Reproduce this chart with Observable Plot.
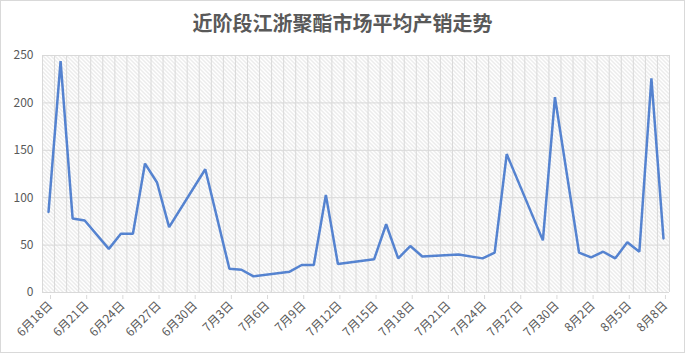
<!DOCTYPE html>
<html><head><meta charset="utf-8">
<script src="https://cdn.jsdelivr.net/npm/d3@7"></script>
<script src="https://cdn.jsdelivr.net/npm/@observablehq/plot@0.6"></script>
<style>
body{margin:0;background:#fff;}
#chart{position:relative;width:685px;height:353px;box-shadow:inset 0 0 0 1px #d9d9d9;font-family:"Noto Sans CJK SC",sans-serif;}
#title{height:45px;line-height:45px;text-align:center;font-size:20px;color:#595959;font-weight:bold;}
#chart svg{display:block;}
</style></head><body>
<div id="chart"><div id="title">近阶段江浙聚酯市场平均产销走势</div></div>
<script>
const dates = ["2023-06-18","2023-06-19","2023-06-20","2023-06-21","2023-06-23","2023-06-24","2023-06-25","2023-06-26","2023-06-27","2023-06-28",
  "2023-07-01","2023-07-03","2023-07-04","2023-07-05","2023-07-08","2023-07-09","2023-07-10","2023-07-11","2023-07-12","2023-07-15",
  "2023-07-16","2023-07-17","2023-07-18","2023-07-19","2023-07-22","2023-07-24","2023-07-25","2023-07-26","2023-07-29","2023-07-30",
  "2023-08-01","2023-08-02","2023-08-03","2023-08-04","2023-08-05","2023-08-06","2023-08-07","2023-08-08"];
const values = [85,244,78,76,46,62,62,136,116,69,
  130,25,24,17,22,29,29,103,30,35,
  72,36,49,38,40,36,42,146,55,206,
  42,37,43,36,53,43,226,57];
const yTicks = [0,50,100,150,200,250];
const axisStart = "2023-06-18";
const axisEnd = "2023-08-09";

const parse = s => new Date(s + "T00:00:00Z");
const data = dates.map((d, i) => ({date: d3.utcHour.offset(parse(d), 12), value: values[i]}));
const start = parse(axisStart), end = parse(axisEnd);
const dayLines = d3.utcDay.range(start, d3.utcDay.offset(end, 1));
const tickDates = d3.utcDay.every(1).range(start, end).filter((d, i) => i % 3 === 0);

const plot = Plot.plot({
  width: 685, height: 308,
  marginTop: 10, marginBottom: 61, marginLeft: 42, marginRight: 16,
  x: {type: "utc", domain: [start, end]},
  y: {domain: [0, 250]},
  style: {fontFamily: "'Noto Sans CJK SC', sans-serif", fontSize: "12px", color: "#595959", background: "transparent"},
  marks: [
    Plot.frame({fill: "url(#hatch)", stroke: null}),
    Plot.ruleX(dayLines, {stroke: "#d9d9d9", strokeWidth: 1}),
    Plot.ruleY(yTicks, {stroke: "#d9d9d9", strokeWidth: 1}),
    Plot.axisY({ticks: yTicks, tickSize: 0, tickPadding: 9, label: null, fill: "#595959"}),
    Plot.axisX({ticks: tickDates, tickSize: 4, tickPadding: 4, tickRotate: -45, label: null,
      stroke: "#d9d9d9", fill: "#595959", dx: 8, dy: 3,
      tickFormat: d => `${d.getUTCMonth() + 1}月${d.getUTCDate()}日`}),
    Plot.lineY(data, {x: "date", y: "value", stroke: "#5583d0", strokeWidth: 2.5, strokeLinejoin: "miter"})
  ]
});
const ns = "http://www.w3.org/2000/svg";
const defs = document.createElementNS(ns, "defs");
const pat = document.createElementNS(ns, "pattern");
pat.setAttribute("id", "hatch");
pat.setAttribute("patternUnits", "userSpaceOnUse");
pat.setAttribute("width", "4");
pat.setAttribute("height", "4");
const bg = document.createElementNS(ns, "rect");
bg.setAttribute("width", "4"); bg.setAttribute("height", "4"); bg.setAttribute("fill", "#ffffff");
pat.appendChild(bg);
const p = document.createElementNS(ns, "path");
p.setAttribute("d", "M-1,-1L5,5M-1,3L1,5M3,-1L5,1");
p.setAttribute("stroke", "#d4d4d4");
p.setAttribute("stroke-width", "0.9");
pat.appendChild(p);
defs.appendChild(pat);
plot.insertBefore(defs, plot.firstChild);
document.getElementById("chart").appendChild(plot);
</script>
</body></html>
